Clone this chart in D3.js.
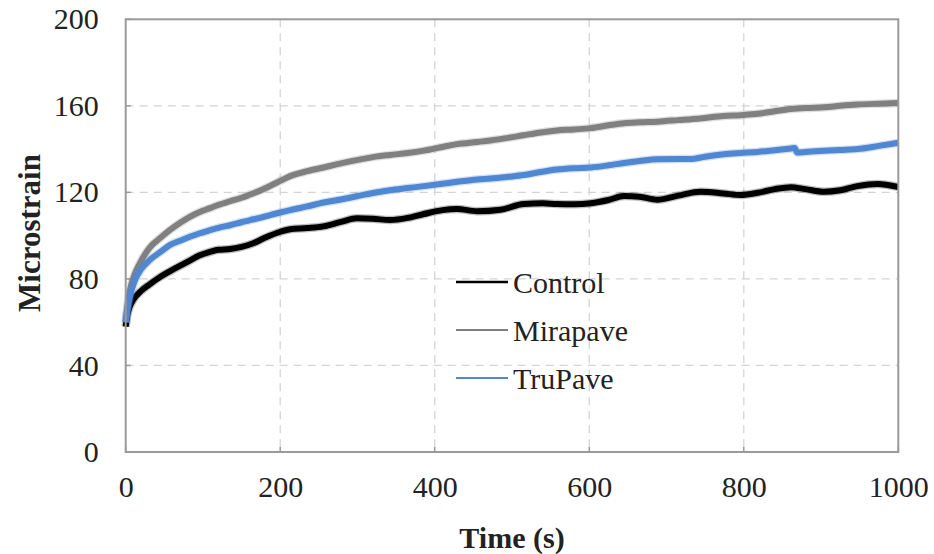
<!DOCTYPE html>
<html>
<head>
<meta charset="utf-8">
<script src="https://cdn.jsdelivr.net/npm/d3@7/dist/d3.min.js"></script>
<style>
  html, body { margin: 0; padding: 0; background: #fff; }
  svg { display: block; }
  text { font-family: "Liberation Serif", "Times New Roman", serif; fill: #222; }
</style>
</head>
<body>
<svg id="chart" width="934" height="554"></svg>
<script>
// ---- Data ----
const xTicks = [0, 200, 400, 600, 800, 1000];
const yTicks = [0, 40, 80, 120, 160, 200];
const seriesNames = ["Control", "Mirapave", "TruPave"];

const controlT = [0, 2, 5, 10, 20, 31, 45, 57, 70, 83, 95, 109, 120, 135, 150, 165, 180, 200, 213, 235, 256, 280, 299, 320, 342, 365, 386, 410, 429, 455, 485, 515, 540, 558, 580, 602, 625, 645, 665, 688, 715, 744, 774, 796, 818, 840, 861, 880, 904, 925, 947, 973, 1000];
const controlV = [58, 63, 67, 70.5, 74.5, 77.5, 81, 83.5, 86, 88.5, 90.8, 92.5, 93.5, 93.8, 94.8, 96.5, 99, 101.8, 103, 103.5, 104.3, 106.5, 108, 107.8, 107.2, 108.2, 110, 111.8, 112.3, 111.3, 112, 114.6, 115, 114.6, 114.5, 115, 116.5, 118.3, 118, 116.6, 118.5, 120.3, 119.5, 118.8, 119.8, 121.5, 122.4, 121.5, 120.3, 121, 122.9, 123.9, 122.5];

const mirapaveT = [0, 2, 5, 12, 18, 31, 45, 57, 70, 83, 95, 109, 120, 135, 150, 161, 175, 187, 200, 213, 235, 256, 280, 299, 320, 342, 365, 386, 410, 429, 455, 472, 495, 515, 535, 558, 580, 602, 625, 645, 665, 688, 715, 744, 774, 796, 818, 840, 861, 880, 904, 925, 947, 975, 1000];
const mirapaveV = [60, 67, 74, 82.5, 87, 94.5, 99, 102.5, 105.8, 108.7, 110.8, 112.7, 114.2, 115.9, 117.5, 119, 121, 123, 125.3, 127.5, 129.8, 131.5, 133.5, 134.9, 136.3, 137.3, 138.2, 139.3, 141, 142.3, 143.3, 144, 145.2, 146.4, 147.6, 148.6, 149.1, 149.7, 151, 152, 152.4, 152.7, 153.4, 154.2, 155.3, 155.7, 156.3, 157.5, 158.5, 159, 159.3, 160, 160.6, 161, 161.3];

const trupaveT = [0, 2, 5, 12, 20, 31, 45, 57, 70, 83, 95, 109, 120, 135, 150, 161, 175, 187, 200, 213, 235, 256, 280, 299, 320, 342, 365, 386, 410, 429, 455, 472, 495, 515, 535, 558, 580, 602, 625, 645, 665, 688, 715, 731, 750, 774, 796, 818, 840, 861, 866, 869, 880, 904, 925, 947, 975, 1000];
const trupaveV = [60, 65, 71, 79.4, 84.5, 88.7, 92.5, 95.6, 97.6, 99.5, 101, 102.5, 103.6, 104.8, 106.2, 107.2, 108.3, 109.5, 110.7, 111.8, 113.5, 115.3, 116.8, 118.2, 119.7, 121, 122, 122.9, 124, 124.9, 126, 126.4, 127.2, 128, 129.3, 130.6, 131.2, 131.5, 132.5, 133.6, 134.5, 135.3, 135.4, 135.4, 136.5, 137.6, 138.2, 138.7, 139.5, 140.3, 140.5, 138.4, 138.7, 139.2, 139.6, 140, 141.5, 142.9];

const colors = ["#000000", "#808080", "#4f87d2"];

// ---- Layout ----
const svg = d3.select("#chart");
const L = 125.7, R = 898.3, T = 19.3, B = 452;

const x = d3.scaleLinear().domain([0, 1000]).range([L, R]);
const y = d3.scaleLinear().domain([0, 200]).range([B, T]);

// Gridlines
const grid = svg.append("g");
grid.selectAll("line.h").data(yTicks.filter(d => d > 0 && d < 200)).join("line")
  .attr("x1", L).attr("x2", R).attr("y1", d => y(d)).attr("y2", d => y(d))
  .attr("stroke", "#d4d4d4").attr("stroke-width", 1.3).attr("stroke-dasharray", "8,6");
grid.selectAll("line.v").data(xTicks.filter(d => d > 0 && d < 1000)).join("line")
  .attr("y1", T).attr("y2", B).attr("x1", d => x(d)).attr("x2", d => x(d))
  .attr("stroke", "#d4d4d4").attr("stroke-width", 1.3).attr("stroke-dasharray", "8,6");

// Axes (tick labels)
const yAxis = d3.axisLeft(y).tickValues(yTicks).tickFormat(d3.format("d")).tickSize(0).tickPadding(27);
const gy = svg.append("g").attr("transform", `translate(${L},0)`).call(yAxis);
gy.select(".domain").remove();
gy.selectAll("text").style("font-family", "Liberation Serif, serif").style("font-size", "30px").attr("fill", "#222");

const xAxis = d3.axisBottom(x).tickValues(xTicks).tickFormat(d3.format("d")).tickSize(0).tickPadding(24);
const gx = svg.append("g").attr("transform", `translate(0,${B})`).call(xAxis);
gx.select(".domain").remove();
gx.selectAll("text").style("font-family", "Liberation Serif, serif").style("font-size", "30px").attr("fill", "#222");

// Inner ticks
svg.append("g").selectAll("line").data(yTicks).join("line")
  .attr("x1", L).attr("x2", L + 5).attr("y1", d => y(d)).attr("y2", d => y(d))
  .attr("stroke", "#9a9a9a").attr("stroke-width", 1.5);
svg.append("g").selectAll("line").data(xTicks).join("line")
  .attr("y1", B).attr("y2", B - 5).attr("x1", d => x(d)).attr("x2", d => x(d))
  .attr("stroke", "#9a9a9a").attr("stroke-width", 1.5);

// Series
const series = [
  { name: seriesNames[0], t: controlT, v: controlV, color: colors[0], w: 6 },
  { name: seriesNames[1], t: mirapaveT, v: mirapaveV, color: colors[1], w: 6 },
  { name: seriesNames[2], t: trupaveT, v: trupaveV, color: colors[2], w: 6 }
];
const line = d3.line().x(d => x(d[0])).y(d => y(d[1])).curve(d3.curveMonotoneX);
series.forEach(s => {
  const pts = s.t.map((t, i) => [t, s.v[i]]);
  svg.append("path").datum(pts).attr("d", line)
    .attr("fill", "none").attr("stroke", s.color).attr("stroke-width", s.w + 2.5)
    .attr("stroke-opacity", 0.25).attr("stroke-linejoin", "round");
  svg.append("path").datum(pts).attr("d", line)
    .attr("fill", "none").attr("stroke", s.color).attr("stroke-width", s.w)
    .attr("stroke-linejoin", "round");
});

// Frame
svg.append("rect").attr("x", L).attr("y", T).attr("width", R - L).attr("height", B - T)
  .attr("fill", "none").attr("stroke", "#9a9a9a").attr("stroke-width", 2);

// Legend
const legend = svg.append("g");
const legY = [282, 330, 378];
const legW = [2.5, 2, 1.8];
series.forEach((s, i) => {
  legend.append("line").attr("x1", 456).attr("x2", 508).attr("y1", legY[i]).attr("y2", legY[i])
    .attr("stroke", s.color).attr("stroke-width", legW[i]);
  legend.append("text").attr("x", 513).attr("y", legY[i]).attr("dy", "0.35em")
    .style("font-size", "30px").text(s.name);
});

// Axis titles
svg.append("text").attr("x", 512).attr("y", 537).attr("dy", "0.35em").attr("text-anchor", "middle")
  .style("font-size", "30px").style("font-weight", "bold").text("Time (s)");
svg.append("text").attr("transform", "translate(29,233) rotate(-90)").attr("dy", "0.35em")
  .attr("text-anchor", "middle").style("font-size", "31px").style("font-weight", "bold").text("Microstrain");
</script>
</body>
</html>
